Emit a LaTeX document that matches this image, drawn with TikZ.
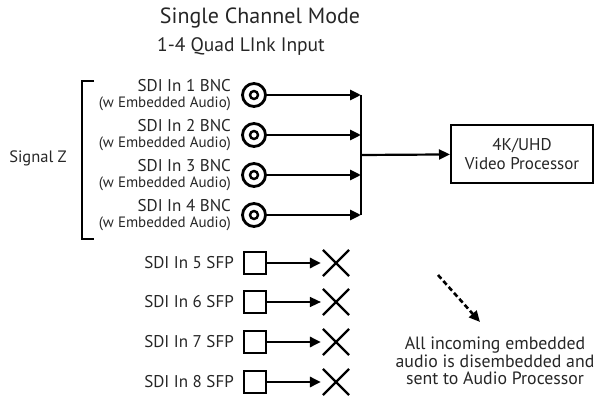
\documentclass[tikz,border=0pt]{standalone}
\usepackage{fontspec}
\setmainfont{PT Sans}
\usetikzlibrary{positioning, arrows.meta, shapes.misc}

\begin{document}
\begin{tikzpicture}[x=1pt, y=-1pt, font=\fontsize{17}{17}\selectfont, text=black!85,
		bnc/.style={circle, draw, line width=2.8pt, minimum size=23pt, inner sep=0pt,
			path picture={\draw[line width=2.4pt] (path picture bounding box.center) circle (4pt);}},
		sfp/.style={rectangle, draw, line width=2pt, minimum size=22pt, inner sep=0pt},
		nope/.style={cross out, draw, line width=2.2pt, minimum size=24pt, inner sep=0pt},
		feed/.style={-{Triangle[length=11pt, width=10pt]}, line width=2.8pt},
		lbl/.style={align=right, inner sep=1pt}]
	\useasboundingbox (0,0) rectangle (601,403);

	\node (title) at (260,18) {\fontsize{22}{24}\selectfont Single Channel Mode};
	\node (sub) at (241,47) {\fontsize{19.5}{22}\selectfont 1-4 Quad LInk Input};
	\node (sigz) at (38,158) {\fontsize{16.5}{18}\selectfont Signal Z};

	\draw[line width=2.8pt] (94,81) -- (82,81) -- (82,239) -- (94,239);

	\node (bnc1) [bnc] at (254,95) {};
	\node (bnc2) [bnc] at (254,135) {};
	\node (bnc3) [bnc] at (254,175) {};
	\node (bnc4) [bnc] at (254,215) {};

	\node (in1) [lbl, left=9pt of bnc1] {SDI In 1 BNC\\[-1.5pt]{\fontsize{15}{15}\selectfont(w Embedded Audio)}};
	\node (in2) [lbl, left=9pt of bnc2] {SDI In 2 BNC\\[-1.5pt]{\fontsize{15}{15}\selectfont(w Embedded Audio)}};
	\node (in3) [lbl, left=9pt of bnc3] {SDI In 3 BNC\\[-1.5pt]{\fontsize{15}{15}\selectfont(w Embedded Audio)}};
	\node (in4) [lbl, left=9pt of bnc4] {SDI In 4 BNC\\[-1.5pt]{\fontsize{15}{15}\selectfont(w Embedded Audio)}};

	\coordinate (bus) at (361,155);
	\node (vp) [draw, line width=2pt, minimum width=142pt, minimum height=58pt, align=center] at (522,154) {4K/UHD\\[2pt]Video Processor};

	\draw[feed] (bnc1) -- (bnc1 -| bus);
	\draw[feed] (bnc2) -- (bnc2 -| bus);
	\draw[feed] (bnc3) -- (bnc3 -| bus);
	\draw[feed] (bnc4) -- (bnc4 -| bus);
	\draw[line width=2.4pt] (bnc1 -| bus) -- (bnc4 -| bus);
	\draw[feed, line width=2.2pt] (bus) -- (vp);

	\node (sfp5) [sfp] at (255,263) {};
	\node (sfp6) [sfp] at (255,302) {};
	\node (sfp7) [sfp] at (255,342) {};
	\node (sfp8) [sfp] at (255,382) {};

	\node (in5) [lbl, left=8pt of sfp5] {SDI In 5 SFP};
	\node (in6) [lbl, left=8pt of sfp6] {SDI In 6 SFP};
	\node (in7) [lbl, left=8pt of sfp7] {SDI In 7 SFP};
	\node (in8) [lbl, left=8pt of sfp8] {SDI In 8 SFP};

	\node (x5) [nope] at (336,263) {};
	\node (x6) [nope] at (336,302) {};
	\node (x7) [nope] at (336,342) {};
	\node (x8) [nope] at (336,382) {};

	\draw[feed, shorten >=2pt] (sfp5) -- (x5);
	\draw[feed, shorten >=2pt, line width=1.5pt] (sfp6) -- (x6);
	\draw[feed, shorten >=2pt] (sfp7) -- (x7);
	\draw[feed, shorten >=2pt] (sfp8) -- (x8);

	\coordinate (hint) at (438,275);
	\node (note) [align=center, font=\fontsize{17.8}{17.5}\selectfont] at (495,361) {All incoming embedded\\audio is disembedded and\\sent to Audio Processor};
	\draw[feed, dash pattern=on 5pt off 3pt, line width=2.6pt] (hint) -- (480,322);
\end{tikzpicture}
\end{document}
